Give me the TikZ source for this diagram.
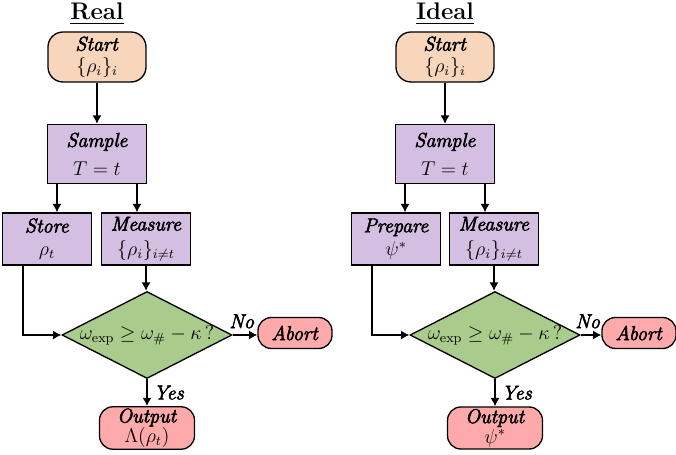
\documentclass[tikz,border=0pt]{standalone}
\usepackage{fix-cm}
\usetikzlibrary{shapes.geometric,arrows.meta}
\usepackage{amssymb}
% italic label, slightly emboldened
\newcommand{\bi}[1]{\special{pdf:literal direct 2 Tr 0.35 w}\textit{#1}\special{pdf:literal direct 0 Tr}}
\begin{document}
\begin{tikzpicture}[x=0.6pt,y=-0.6pt,
        every node/.style={font=\fontsize{12}{14}\selectfont},
        startstop/.style={draw, thick, rounded corners=9pt, fill=startcol, align=center, inner sep=1pt},
        process/.style={draw, thick, fill=proccol, align=center, inner sep=1pt},
        decision/.style={draw, thick, diamond, fill=deccol, minimum width=102pt, minimum height=52.2pt, inner sep=0pt},
        stopbox/.style={draw, thick, rounded corners=8pt, fill=stopcol, align=center, inner sep=1pt},
        title/.style={font=\Large\bfseries},
        arrow/.style={-{Latex[length=5pt,width=5.5pt]}, line width=1.4pt}]
    \definecolor{startcol}{HTML}{F8D6BC}
    \definecolor{proccol}{HTML}{D4BFE3}
    \definecolor{deccol}{HTML}{A9CC8C}
    \definecolor{stopcol}{HTML}{FFAAAA}
    \useasboundingbox (0,0) rectangle (676,455);
    \clip (0,0) rectangle (676,455);

    % real protocol
    \node[title, anchor=base] (realtitle) at (97,20) {\underline{Real}};
    \node[startstop, minimum width=58.8pt, minimum height=30pt] (realstart) at (97,57)
        {\bi{Start}\\[-1pt] $\{\rho_i\}_i$};
    \node[process, minimum width=59.4pt, minimum height=35.4pt] (realsample) at (97,154)
        {\bi{Sample}\\[3pt] $T=t$};
    \node[process, minimum width=53.4pt, minimum height=31.2pt] (store) at (47,239)
        {\bi{Store}\\ $\rho_t$};
    \node[process, minimum width=53.4pt, minimum height=31.2pt] (realmeasure) at (146,239)
        {\bi{Measure}\\[1pt] $\{\rho_i\}_{i\neq t}$};
    \node[decision] (realdec) at (147,335) {};
    \node (realtest) at (realdec) {$\omega_{\mathrm{exp}} \geq \omega_{\#} - \kappa\,?$};
    \node[stopbox, minimum width=44.4pt, minimum height=18.6pt] (realabort) at (295,333) {\bi{Abort}};
    \node[stopbox, minimum width=57pt, minimum height=25.2pt] (realoutput) at (147,428)
        {\bi{Output}\\[-2pt] $\Lambda(\rho_t)$};

    \draw[arrow] (realstart) -- (realsample);
    \draw[arrow] ([xshift=-24pt]realsample.south) -- ([xshift=-24pt]realsample.south |- store.north);
    \draw[arrow] ([xshift=24pt]realsample.south) -- ([xshift=24pt]realsample.south |- realmeasure.north);
    \draw[arrow] (realmeasure.south) -- (realmeasure.south |- realdec.north);
    \draw[arrow] ([xshift=-14.4pt]store.south) |- (realdec.west);
    \draw[arrow] (realdec.east) -- node[above, xshift=-2pt] {\bi{No}} (realdec.east -| realabort.west);
    \draw[arrow] (realdec.south) -- node[right] {\bi{Yes}} (realoutput.north);

    % ideal protocol
    \node[title, anchor=base] (idealtitle) at (445,20) {\underline{Ideal}};
    \node[startstop, minimum width=58.8pt, minimum height=30pt] (idealstart) at (445,57)
        {\bi{Start}\\[-1pt] $\{\rho_i\}_i$};
    \node[process, minimum width=59.4pt, minimum height=35.4pt] (idealsample) at (445,154)
        {\bi{Sample}\\[3pt] $T=t$};
    \node[process, minimum width=53.4pt, minimum height=31.2pt] (prepare) at (396,239)
        {\bi{Prepare}\\ $\psi^*$};
    \node[process, minimum width=53.4pt, minimum height=31.2pt] (idealmeasure) at (494,239)
        {\bi{Measure}\\[1pt] $\{\rho_i\}_{i\neq t}$};
    \node[decision] (idealdec) at (495,335) {};
    \node (idealtest) at (idealdec) {$\omega_{\mathrm{exp}} \geq \omega_{\#} - \kappa\,?$};
    \node[stopbox, minimum width=44.4pt, minimum height=18.6pt] (idealabort) at (639,333) {\bi{Abort}};
    \node[stopbox, minimum width=57pt, minimum height=25.2pt] (idealoutput) at (495,428)
        {\bi{Output}\\[-2pt] $\psi^*$};

    \draw[arrow] (idealstart) -- (idealsample);
    \draw[arrow] ([xshift=-24pt]idealsample.south) -- ([xshift=-24pt]idealsample.south |- prepare.north);
    \draw[arrow] ([xshift=24pt]idealsample.south) -- ([xshift=24pt]idealsample.south |- idealmeasure.north);
    \draw[arrow] (idealmeasure.south) -- (idealmeasure.south |- idealdec.north);
    \draw[arrow] ([xshift=-14.4pt]prepare.south) |- (idealdec.west);
    \draw[arrow] (idealdec.east) -- node[above, xshift=-2pt] {\bi{No}} (idealdec.east -| idealabort.west);
    \draw[arrow] (idealdec.south) -- node[right] {\bi{Yes}} (idealoutput.north);

\end{tikzpicture}
\end{document}
